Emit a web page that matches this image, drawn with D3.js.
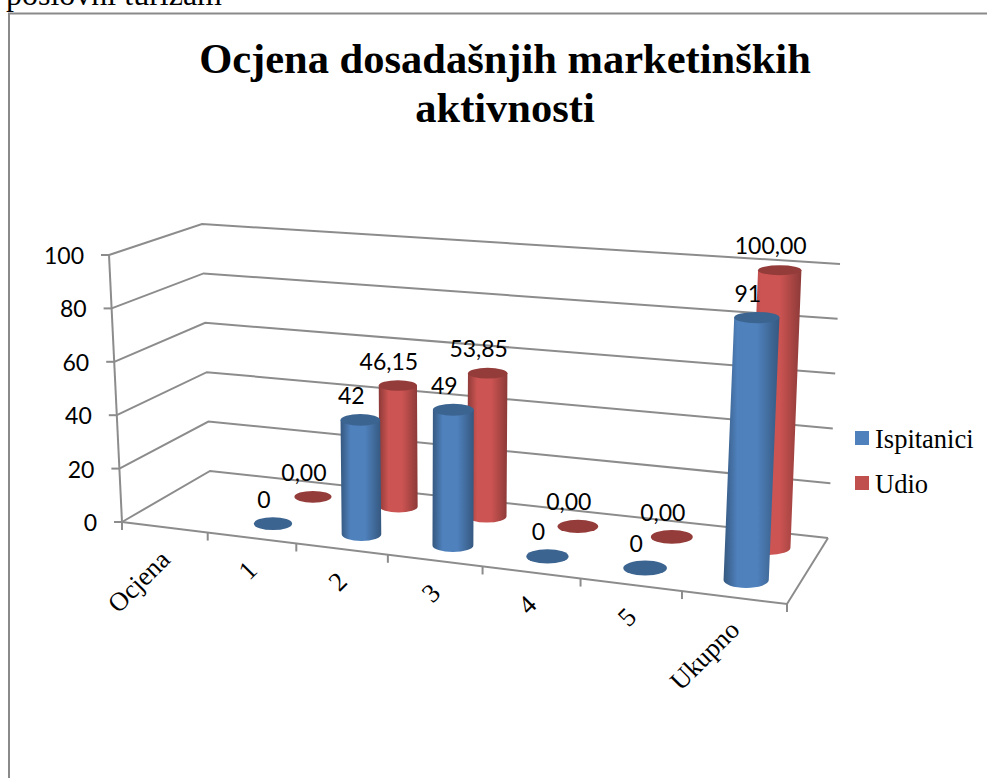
<!DOCTYPE html>
<html>
<head>
<meta charset="utf-8">
<script src="https://cdn.jsdelivr.net/npm/d3@7"></script>
<style>
  html, body { margin: 0; padding: 0; background: #fff; overflow: hidden; }
  svg { display: block; }
</style>
</head>
<body>
<div id="plot"></div>
<script>
// chart values
const categories = ["Ocjena", "1", "2", "3", "4", "5", "Ukupno"];
const seriesNames = ["Ispitanici", "Udio"];
const ispitanici = [null, 0, 42, 49, 0, 0, 91];
const udio = [null, 0, 46.15, 53.85, 0, 0, 100];
const udioLabels = [null, "0,00", "46,15", "53,85", "0,00", "0,00", "100,00"];
const yTicks = [0, 20, 40, 60, 80, 100];
const titleLines = ["Ocjena dosadašnjih marketinških", "aktivnosti"];

const width = 987;
const height = 778;

const colors = {
    Ispitanici: { edge: "#35587f", mid: "#4f81bd", cap: "#3c6490" },
    Udio: { edge: "#8c3a38", mid: "#cc5452", cap: "#943c3a" }
};
const gridColor = "#8c8c8c";

const svg = d3.select("#plot")
    .append("svg")
    .attr("width", width)
    .attr("height", height);

// corners of the floor as they sit on the page, and how far the value axis
// rises from each corner (front left, front right, back right, back left)
const floorCorners = [[122, 522], [787, 604], [828, 538], [210, 471]];
const riseCorners = [[-13, -267], [14, -296], [12, -274], [-8, -247]];

// maps the unit square onto a quad
function quadMap(q) {
    const sx = q[0][0] - q[1][0] + q[2][0] - q[3][0];
    const sy = q[0][1] - q[1][1] + q[2][1] - q[3][1];
    const dx1 = q[1][0] - q[2][0], dx2 = q[3][0] - q[2][0];
    const dy1 = q[1][1] - q[2][1], dy2 = q[3][1] - q[2][1];
    const den = dx1 * dy2 - dx2 * dy1;
    const g = (sx * dy2 - dx2 * sy) / den;
    const h = (dx1 * sy - sx * dy1) / den;
    const a = q[1][0] - q[0][0] + g * q[1][0];
    const b = q[3][0] - q[0][0] + h * q[3][0];
    const d = q[1][1] - q[0][1] + g * q[1][1];
    const e = q[3][1] - q[0][1] + h * q[3][1];
    return function (u, v) {
        const w = g * u + h * v + 1;
        return [(a * u + b * v + q[0][0]) / w, (d * u + e * v + q[0][1]) / w];
    };
}

const floorMap = quadMap(floorCorners);

// the chart's perspective is a bit milder along the categories
function bend(u) {
    return u + 0.033 * u * (1 - u);
}

// u along the categories, v into the depth, t up the value axis
function project(u, v, t) {
    const f = floorMap(bend(u), v);
    const r = riseCorners;
    const front = [r[0][0] + (r[1][0] - r[0][0]) * u, r[0][1] + (r[1][1] - r[0][1]) * u];
    const back = [r[3][0] + (r[2][0] - r[3][0]) * u, r[3][1] + (r[2][1] - r[3][1]) * u];
    return [
        f[0] + (front[0] + (back[0] - front[0]) * v) * t,
        f[1] + (front[1] + (back[1] - front[1]) * v) * t
    ];
}

const xScale = d3.scaleBand().domain(categories).range([0, 1]);
const zScale = d3.scaleBand().domain(seriesNames).range([0, 1]);
const yScale = d3.scaleLinear().domain([0, 100]).range([0, 1]);

const radiusU = 0.22 * xScale.bandwidth();
const radiusV = 0.23 * zScale.bandwidth();

// gradients across the cylinders
const defs = svg.append("defs");
seriesNames.forEach(function (name) {
    const grad = defs.append("linearGradient")
        .attr("id", "grad" + name)
        .attr("x1", "0%").attr("x2", "100%")
        .attr("y1", "0%").attr("y2", "0%");
    grad.append("stop").attr("offset", "0%").attr("stop-color", colors[name].edge);
    grad.append("stop").attr("offset", "25%").attr("stop-color", colors[name].mid);
    grad.append("stop").attr("offset", "60%").attr("stop-color", colors[name].mid);
    grad.append("stop").attr("offset", "100%").attr("stop-color", colors[name].edge);
});

// text cut off by the top of the page, and the frame
svg.append("text")
    .attr("x", 6)
    .attr("y", 5)
    .attr("font-family", "Liberation Serif")
    .attr("font-size", 32)
    .text("poslovni turizam");

svg.append("path")
    .attr("d", "M" + width + ",13.5H9V" + height)
    .attr("fill", "none")
    .attr("stroke", "#8a8a8a")
    .attr("stroke-width", 2);

// title
svg.selectAll("text.title")
    .data(titleLines)
    .enter().append("text")
    .attr("class", "title")
    .attr("x", 505)
    .attr("y", (d, i) => 73 + i * 49)
    .attr("text-anchor", "middle")
    .attr("font-family", "Liberation Serif")
    .attr("font-weight", "bold")
    .attr("font-size", 42.5)
    .text(d => d);

// gridlines on the side wall and back wall
const grid = svg.append("g")
    .attr("fill", "none")
    .attr("stroke", gridColor)
    .attr("stroke-width", 2);

yTicks.forEach(function (tick) {
    const t = yScale(tick);
    const line = d3.line()([project(0, 0, t), project(0, 1, t), project(1, 1, t)]);
    grid.append("path").attr("d", line);
    const a = project(0, 0, t);
    grid.append("path").attr("d", d3.line()([[a[0] - 8, a[1]], a]));
});

// value axis, floor edges and category ticks
grid.append("path").attr("d", d3.line()([project(0, 0, 1), project(0, 0, 0)]));
grid.append("path").attr("d", d3.line()([project(0, 0, 0), project(1, 0, 0), project(1, 1, 0)]));

categories.concat([null]).forEach(function (c, i) {
    const u = i < categories.length ? xScale(c) : 1;
    const p = project(u, 0, 0);
    grid.append("path").attr("d", d3.line()([p, [p[0], p[1] + 8]]));
});

// value labels on the axis
svg.selectAll("text.ytick")
    .data(yTicks)
    .enter().append("text")
    .attr("class", "ytick")
    .attr("x", d => project(0, 0, yScale(d))[0] - 25)
    .attr("y", d => project(0, 0, yScale(d))[1] + 9)
    .attr("text-anchor", "end")
    .attr("font-family", "Lato")
    .attr("font-size", 23)
    .text(d => d);

// category labels
svg.selectAll("text.xtick")
    .data(categories)
    .enter().append("text")
    .attr("class", "xtick")
    .attr("transform", function (d) {
        const p = project(xScale(d) + xScale.bandwidth() / 2, 0, 0);
        return "translate(" + (p[0] + 7) + "," + (p[1] + 34) + ") rotate(-45)";
    })
    .attr("text-anchor", "end")
    .attr("font-family", "Liberation Serif")
    .attr("font-size", 26.5)
    .text(d => d);

// one cylinder (or a flat disc when the value is 0)
function drawBar(g, name, category, value) {
    const u = xScale(category) + xScale.bandwidth() / 2;
    const v = zScale(name) + zScale.bandwidth() / 2;
    const t = yScale(value);

    // the caps flatten a little on the way up
    const rx = (project(u + radiusU, v, 0)[0] - project(u - radiusU, v, 0)[0]) / 2;
    const ry = Math.abs(project(u, v + radiusV, 0)[1] - project(u, v - radiusV, 0)[1]) / 2;
    const bottom = project(u, v, 0);
    const top = project(u, v, t);
    const topRy = ry * (1 - 0.3 * t);

    if (value > 0) {
        g.append("path")
            .attr("d", "M" + (top[0] - rx) + "," + top[1]
                + "L" + (bottom[0] - rx) + "," + bottom[1]
                + "A" + rx + "," + ry + " 0 0 0 " + (bottom[0] + rx) + "," + bottom[1]
                + "L" + (top[0] + rx) + "," + top[1] + "Z")
            .attr("fill", "url(#grad" + name + ")");
    }
    g.append("ellipse")
        .attr("cx", top[0])
        .attr("cy", top[1])
        .attr("rx", rx)
        .attr("ry", topRy)
        .attr("fill", colors[name].cap);
    return top;
}

// back series first so that the front one covers it
const bars = svg.append("g");
const labels = [];
categories.forEach(function (c, i) {
    if (udio[i] === null) return;
    const p = drawBar(bars, "Udio", c, udio[i]);
    labels.push({ x: p[0], y: p[1], text: udioLabels[i] });
});
categories.forEach(function (c, i) {
    if (ispitanici[i] === null) return;
    const p = drawBar(bars, "Ispitanici", c, ispitanici[i]);
    labels.push({ x: p[0], y: p[1], text: String(ispitanici[i]) });
});

svg.selectAll("text.barlabel")
    .data(labels)
    .enter().append("text")
    .attr("class", "barlabel")
    .attr("x", d => d.x - 9)
    .attr("y", d => d.y - 16)
    .attr("text-anchor", "middle")
    .attr("font-family", "Lato")
    .attr("font-size", 23)
    .text(d => d.text);

// legend
const legend = svg.selectAll("g.legend")
    .data(seriesNames)
    .enter().append("g")
    .attr("class", "legend")
    .attr("transform", (d, i) => "translate(855," + (431 + i * 45) + ")");

legend.append("rect")
    .attr("width", 14)
    .attr("height", 14)
    .attr("fill", d => d === "Udio" ? "#c0504d" : "#4f81bd");

legend.append("text")
    .attr("x", 20)
    .attr("y", 17)
    .attr("font-family", "Liberation Serif")
    .attr("font-size", 26.5)
    .text(d => d);
</script>
</body>
</html>
